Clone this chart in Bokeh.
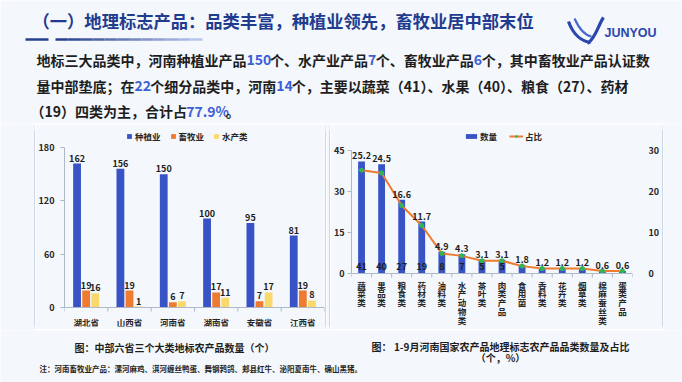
from bokeh.plotting import figure
from bokeh.layouts import column, row
from bokeh.models import (Range1d, FactorRange, ColumnDataSource, LinearAxis,
                          Legend, LegendItem, LabelSet, FixedTicker, Span)
from bokeh.transform import dodge
from bokeh.embed import file_html
from bokeh.resources import INLINE
from bokeh.core.properties import value

# ---------------- data ----------------
title_text = "（一）地理标志产品：品类丰富，种植业领先，畜牧业居中部末位"
body_lines = [
    [("地标三大品类中，河南种植业产品", 0), ("150", 1), ("个、水产业产品", 0), ("7", 1),
     ("个、畜牧业产品", 0), ("6", 1), ("个，其中畜牧业产品认证数", 0)],
    [("量中部垫底；在", 0), ("22", 1), ("个细分品类中，河南", 0), ("14", 1),
     ("个，主要以蔬菜（41）、水果（40）、粮食（27）、药材", 0)],
    [("（19）四类为主，合计占", 0), ("77.9%", 1), ("。", 0)],
]

provinces = ["湖北省", "山西省", "河南省", "湖南省", "安徽省", "江西省"]
planting = [162, 156, 150, 100, 95, 81]
livestock = [19, 19, 6, 17, 7, 19]
aquatic = [16, 1, 7, 11, 17, 8]
left_series = ["种植业", "畜牧业", "水产类"]
left_ticks = [0, 60, 120, 180]

categories = ["蔬菜类", "果品类", "粮食类", "药材类", "油料类", "水产动物类", "茶叶类",
              "肉类产品", "食用菌", "香料类", "花卉类", "烟草类", "棉麻蚕丝类", "蛋类产品"]
counts = [41, 40, 27, 19, 8, 7, 5, 5, 3, 2, 2, 2, 1, 1]
shares = [25.2, 24.5, 16.6, 11.7, 4.9, 4.3, 3.1, 3.1, 1.8, 1.2, 1.2, 1.2, 0.6, 0.6]
right_series = ["数量", "占比"]
count_ticks = [0, 15, 30, 45]
share_ticks = [0, 10, 20, 30]

caption_left = "图：中部六省三个大类地标农产品数量（个）"
caption_right = ["图： 1-9月河南国家农产品地理标志农产品品类数量及占比", "（个，%）"]
note_text = "注：河南畜牧业产品：漯河麻鸡、淇河缠丝鸭蛋、舞钢鹁鸽、郏县红牛、泌阳夏南牛、确山黑猪。"

# ---------------- style ----------------
FONT = "Noto Sans CJK SC"
BG = "#f4f7fc"
BLUE = "#3753c6"
ORANGE = "#ee7b30"
YELLOW = "#fad96c"
GREEN = "#2fb457"
DARK = "#1e1e1e"
NUMBLUE = "#3d5fd6"
NAVY = "#1f3c8e"
BOX = "#9fb0cc"
AXIS = "#aeb8c9"
TXT = "#262626"


def base_fig(w, h, color=BG):
    return figure(width=w, height=h, x_range=Range1d(0, w), y_range=Range1d(h, 0),
                  x_axis_type=None, y_axis_type=None, min_border=0,
                  output_backend="svg", toolbar_location=None,
                  background_fill_color=color, border_fill_color=color, outline_line_color=None)


def boxed(p, w, h):
    return column(base_fig(w + 2, 1, BOX),
                  row(base_fig(1, h, BOX), p, base_fig(1, h, BOX)),
                  base_fig(w + 2, 1, BOX))


def text_width(s, fs):
    w = 0.0
    for ch in s:
        if ord(ch) < 128:
            w += {".": 0.27, "%": 0.87, " ": 0.25}.get(ch, 0.56) * fs
        else:
            w += fs
    return w


def style_axis(ax, size="9px"):
    ax.axis_line_color = AXIS
    ax.major_tick_line_color = AXIS
    ax.minor_tick_line_color = None
    ax.major_label_text_font = FONT
    ax.major_label_text_font_style = "bold"
    ax.major_label_text_color = TXT
    ax.major_label_text_font_size = size


# ---------------- header (682 x 123) ----------------
hdr = base_fig(682, 123)
hdr.text(x=[32], y=[20], text=[title_text], text_font=value(FONT), text_font_size="17.3px",
         text_font_style="bold", text_color=NAVY, text_baseline="middle")
hdr.segment(x0=[25], y0=[39], x1=[48], y1=[39], line_color="#27408f", line_width=2.5)
nseg = 12
c0 = (0x27, 0x40, 0x8f)
c1 = (0xb8, 0xc6, 0xec)
for i in range(nseg):
    t = i / (nseg - 1)
    col = "#%02x%02x%02x" % tuple(int(a + (b - a) * t) for a, b in zip(c0, c1))
    xa = 55 + (202 - 55) * i / nseg
    xb = 55 + (202 - 55) * (i + 1) / nseg
    hdr.segment(x0=[xa], y0=[39], x1=[xb], y1=[39], line_color=col, line_width=2.5)

# logo
hdr.bezier(x0=[568], y0=[21], x1=[590], y1=[42], cx0=[573], cy0=[35], cx1=[582], cy1=[41],
           line_color="#2b46ad", line_width=3.2)
hdr.bezier(x0=[574], y0=[18], x1=[591], y1=[36], cx0=[579], cy0=[29], cx1=[585], cy1=[35],
           line_color="#4a68d2", line_width=2.2)
hdr.bezier(x0=[587], y0=[43], x1=[603], y1=[17], cx0=[595], cy0=[38], cx1=[598], cy1=[24],
           line_color="#2b46ad", line_width=3.2)
hdr.text(x=[604], y=[32], text=["JUNYOU"], text_font=value("Liberation Sans"),
         text_font_size="12.5px", text_font_style="bold", text_color="#2b46ad",
         text_baseline="middle")

line_y = [59, 85, 110]
line_x0 = [36, 36, 30]
FS = 14
for segs, ly_, lx in zip(body_lines, line_y, line_x0):
    x = lx
    for s, kind in segs:
        hdr.text(x=[x], y=[ly_], text=[s], text_font=value(FONT), text_font_size="%dpx" % FS,
                 text_font_style="bold", text_color=NUMBLUE if kind else DARK,
                 text_baseline="middle")
        x += text_width(s, FS)

# ---------------- charts band (page y 123..330) ----------------
FR_TOP, FR_BOT = 130, 326          # page y of both chart frames
TICK_PX = 4

# left chart: baseline at 307, 180 at 147
L_BASE, L_TOP = 307, 147
l_ppu = (L_BASE - L_TOP) / left_ticks[-1]
src1 = ColumnDataSource(dict(prov=provinces, planting=planting, livestock=livestock, aquatic=aquatic,
                             pl_t=[str(v) for v in planting], ls_t=[str(v) for v in livestock],
                             aq_t=[str(v) for v in aquatic]))
p1 = figure(width=290, height=205, x_range=FactorRange(factors=provinces),
            y_range=Range1d(-(FR_BOT - L_BASE) / l_ppu, (L_BASE - FR_TOP) / l_ppu),
            x_axis_location=None, output_backend="svg", toolbar_location=None,
            min_border_left=26, min_border_right=1, min_border_top=FR_TOP - 124,
            min_border_bottom=205 - (FR_BOT - 124),
            background_fill_color=BG, border_fill_color=BG, outline_line_color=None)
p1.grid.grid_line_color = None
offs = [-0.21, 0.0, 0.21]
cols = [BLUE, ORANGE, YELLOW]
fields = ["planting", "livestock", "aquatic"]
tfields = ["pl_t", "ls_t", "aq_t"]
rends = []
for o, c, f, tf in zip(offs, cols, fields, tfields):
    r = p1.vbar(x=dodge("prov", o, range=p1.x_range), top=f, width=0.18, source=src1,
                fill_color=c, line_color=None)
    rends.append(r)
    p1.add_layout(LabelSet(x=dodge("prov", o, range=p1.x_range), y=f, text=tf, source=src1,
                           text_align="center", text_baseline="bottom", y_offset=2,
                           text_font=value(FONT), text_font_size="9px", text_font_style="bold",
                           text_color=DARK))
p1.add_layout(Span(location=0, dimension="width", line_color=AXIS, line_width=1))
# category-boundary tick marks on the baseline
bx1 = list(range(0, len(provinces) + 1))
p1.segment(x0=bx1, y0=[0] * len(bx1), x1=bx1, y1=[-TICK_PX / l_ppu] * len(bx1),
           line_color=AXIS, line_width=1)
p1.text(x="prov", y=0, text="prov", source=src1, y_offset=14, text_align="center",
        text_baseline="middle", text_font=value(FONT), text_font_size="8.5px",
        text_font_style="bold", text_color=TXT)
lya = p1.yaxis[0]
lya.ticker = FixedTicker(ticks=left_ticks)
lya.bounds = (left_ticks[0], left_ticks[-1])
style_axis(lya)
lya.major_tick_out = 4
lya.major_tick_in = 0
lya.major_label_standoff = 6
leg1 = Legend(items=[LegendItem(label=n, renderers=[r]) for n, r in zip(left_series, rends)],
              location=(62, 184), orientation="horizontal", background_fill_alpha=0,
              border_line_color=None, label_text_font=FONT, label_text_font_size="8.5px",
              label_text_font_style="bold", label_text_color=TXT,
              glyph_width=6, glyph_height=6, label_height=9, label_standoff=3, spacing=9,
              padding=0, margin=0)
p1.add_layout(leg1)

# right chart: baseline at 273, 45 at 150
R_BASE, R_TOP = 273, 150
r_ppu = (R_BASE - R_TOP) / count_ticks[-1]
r_ppu2 = (R_BASE - R_TOP) / share_ticks[-1]
src2 = ColumnDataSource(dict(cat=categories, count=counts, share=shares,
                             share_t=["%.1f" % s for s in shares],
                             count_t=[str(c) if c >= 5 else "" for c in counts]))
ch_cat, ch_txt, ch_dy = [], [], []
for c in categories:
    for k, ch in enumerate(c):
        ch_cat.append(c)
        ch_txt.append(ch)
        ch_dy.append(5 + 8.8 * k)
src3 = ColumnDataSource(dict(cat=ch_cat, ch=ch_txt, dy=ch_dy))

p2 = figure(width=332, height=205, x_range=FactorRange(factors=categories),
            y_range=Range1d(-(FR_BOT - R_BASE) / r_ppu, (R_BASE - FR_TOP) / r_ppu),
            x_axis_location=None, output_backend="svg", toolbar_location=None,
            min_border_left=17, min_border_right=27, min_border_top=FR_TOP - 124,
            min_border_bottom=205 - (FR_BOT - 124),
            background_fill_color=BG, border_fill_color=BG, outline_line_color=None)
p2.extra_y_ranges = {"pct": Range1d(-(FR_BOT - R_BASE) / r_ppu2, (R_BASE - FR_TOP) / r_ppu2)}
p2.grid.grid_line_color = None
rb = p2.vbar(x="cat", top="count", width=0.34, source=src2, fill_color=BLUE, line_color=None)
rl = p2.line(x="cat", y="share", y_range_name="pct", source=src2, line_color=ORANGE, line_width=2)
rs = p2.scatter(x="cat", y="share", y_range_name="pct", source=src2, size=5,
                fill_color=GREEN, line_color=None)
p2.add_layout(LabelSet(x="cat", y="count", text="share_t", source=src2, text_align="center",
                       text_baseline="bottom", y_offset=2, text_font=value(FONT),
                       text_font_size="9px", text_font_style="bold", text_color=DARK))
p2.add_layout(LabelSet(x="cat", y=0, text="count_t", source=src2, text_align="center",
                       text_baseline="bottom", y_offset=4, text_font=value(FONT),
                       text_font_size="9px", text_font_style="bold", text_color=DARK))
p2.add_layout(Span(location=0, dimension="width", line_color=AXIS, line_width=1))
bx2 = list(range(0, len(categories) + 1))
p2.segment(x0=bx2, y0=[0] * len(bx2), x1=bx2, y1=[-TICK_PX / r_ppu] * len(bx2),
           line_color=AXIS, line_width=1)
p2.text(x="cat", y=0, text="ch", y_offset="dy", source=src3, text_align="center",
        text_baseline="top", text_font=value(FONT), text_font_size="8.5px",
        text_font_style="bold", text_color=TXT)
rya = p2.yaxis[0]
rya.ticker = FixedTicker(ticks=count_ticks)
rya.bounds = (count_ticks[0], count_ticks[-1])
style_axis(rya)
rya.major_tick_out = 4
rya.major_tick_in = 0
rya.major_label_standoff = 3
axr = LinearAxis(y_range_name="pct", ticker=FixedTicker(ticks=share_ticks),
                 bounds=(share_ticks[0], share_ticks[-1]))
p2.add_layout(axr, "right")
style_axis(axr)
axr.axis_line_color = None
axr.major_tick_line_color = None
axr.major_label_standoff = 10
leg2 = Legend(items=[LegendItem(label=right_series[0], renderers=[rb]),
                     LegendItem(label=right_series[1], renderers=[rl, rs])],
              location=(113, 184), orientation="horizontal", background_fill_alpha=0,
              border_line_color=None, label_text_font=FONT, label_text_font_size="8.5px",
              label_text_font_style="bold", label_text_color=TXT,
              glyph_width=14, glyph_height=6, label_height=9, label_standoff=2, spacing=9,
              padding=0, margin=0)
p2.add_layout(leg2)

band = row(base_fig(34, 207), boxed(p1, 290, 205), base_fig(3, 207),
           boxed(p2, 332, 205), base_fig(19, 207))

# ---------------- footer (page y 330..382) ----------------
ftr = base_fig(682, 52)
ftr.text(x=[174], y=[17], text=[caption_left], text_font=value(FONT), text_font_size="10px",
         text_font_style="bold", text_color=DARK, text_align="center", text_baseline="middle")
ftr.text(x=[500, 500], y=[16, 27], text=caption_right, text_font=value(FONT),
         text_font_size="10px", text_font_style="bold", text_color=DARK, text_align="center",
         text_baseline="middle")
ftr.text(x=[39], y=[38], text=[note_text], text_font=value(FONT), text_font_size="7.5px",
         text_font_style="bold", text_color=DARK, text_baseline="middle")

layout = column(hdr, band, ftr)
open("out.html", "w").write(file_html(layout, INLINE))
